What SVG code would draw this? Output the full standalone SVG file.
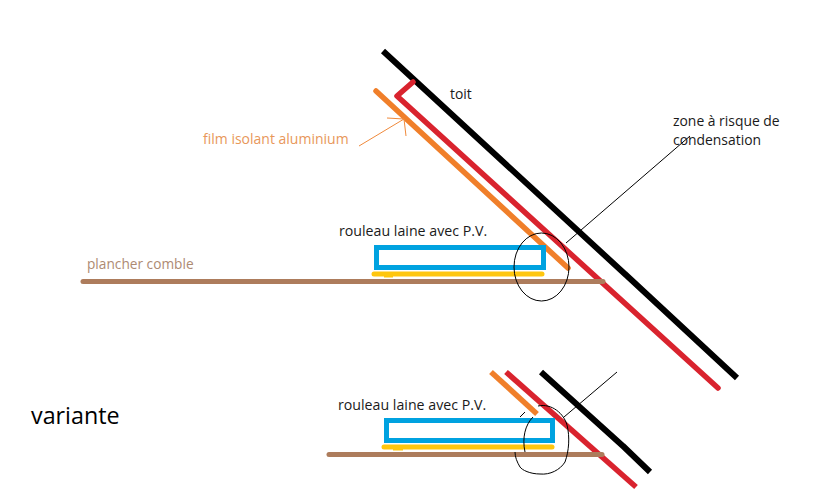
<svg xmlns="http://www.w3.org/2000/svg" width="827" height="496" viewBox="0 0 827 496">
<style>
text{font-family:"Open Sans","Noto Sans",sans-serif;font-size:13.9px;fill:#1a1a1a}
.f{fill:none}
.l{fill:none;stroke-linecap:round;stroke-linejoin:round}
.k{stroke:#000;stroke-width:6;stroke-linecap:butt;fill:none}
.r{stroke:#d9232e;stroke-width:5.500}
.o{stroke:#f07f2a;stroke-width:5.500}
.b{stroke:#ad7c5c;stroke-width:5}
.y{stroke:#ffc60e;stroke-width:5}
.c{stroke:#00a2e0;stroke-width:5;fill:none}
.t{stroke:#000;stroke-width:1;fill:none}
.a{stroke:#f08a3c;stroke-width:1;fill:none}
.w{font-size:14.200px}
</style>
<rect width="827" height="496" fill="#fff"/>
<g id="connectors">
<path class="k" d="M383 51L626 275M625 274L737 378"/>
<path class="l r" d="M413 82L397 96L718 388"/>
<path class="l o" d="M376 91L568 268"/>
<path class="l b" d="M83 281.500H603"/>
<path class="a" d="M359 146L404 119M387 118L404 119L406 136"/>
<path class="t" d="M566 243L690 136"/>
<path class="k" d="M541 372L624 447M623 446L650 472"/>
<path class="r f" style="stroke-linecap:butt" d="M506 372L636 487"/>
<path class="o f" style="stroke-linecap:butt" d="M491 372L537 414"/>
<path class="l b" d="M329 454.500H602"/>
<path class="t" d="M564 417L617 372"/>
</g>
<g id="roof-top"><text x="450" y="99">toit</text></g>
<g id="film"><text x="203" y="144" style="fill:#e8975a;font-size:14px">film isolant aluminium</text></g>
<g id="zone"><text x="673" y="126">zone à risque de</text><text x="673" y="145">condensation</text></g>
<g id="plancher"><text x="87" y="269" style="fill:#ad8a72;font-size:13.700px">plancher comble</text></g>
<g id="rouleau-1">
<text class="w" x="339" y="236">rouleau laine avec P.V.</text>
<rect class="c" x="376.500" y="247.500" width="167" height="20"/>
<path class="l y" d="M374 274H542"/>
<path d="M384 275H393V277.500H384Z" fill="#ffc60e"/>
</g>
<g id="zone-circle-1"><ellipse class="t" cx="541.500" cy="267" rx="27.500" ry="34"/></g>
<g id="variante"><text x="31" y="424" style="font-size:23.300px;fill:#000">variante</text></g>
<g id="rouleau-2">
<text class="w" x="338" y="410">rouleau laine avec P.V.</text>
<rect class="c" x="386.500" y="420.500" width="166" height="20"/>
<path class="l y" d="M384 447H552"/>
<path d="M393 448H403V450.500H393Z" fill="#ffc60e"/>
</g>
<g id="zone-circle-2"><path class="t" d="M525 452C522 438 525 425 533 417M520 417L525 412M538 406C552 403 564 414 567 425C570 437 569 451 565 462C560 470 550 475 540 474C530 474 522 470 520 467C517 462 515 457 515 452"/></g>
</svg>
